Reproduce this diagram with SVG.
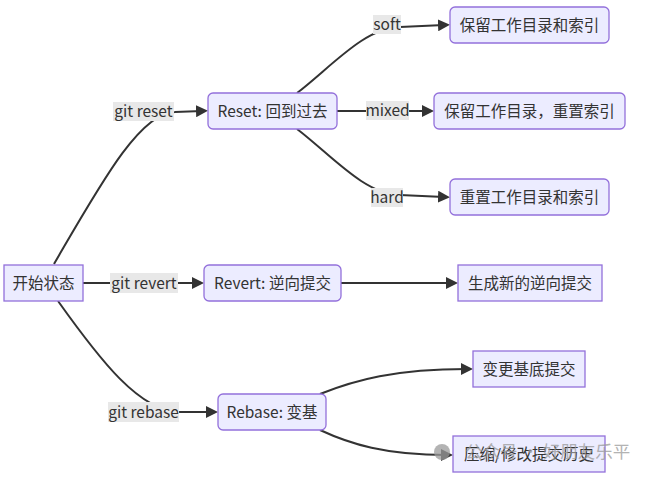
<svg xmlns="http://www.w3.org/2000/svg" width="656" height="479" viewBox="0 0 656 479">
<style>
.node rect{fill:#ECECFF;stroke:#9370DB;stroke-width:1.3px;}
text{font-family:"Noto Sans CJK SC","Microsoft YaHei","Noto Sans",sans-serif;font-size:15.5px;fill:#333;text-anchor:middle;}
.edge{fill:none;stroke:#333;stroke-width:2px;}
.lbl rect{fill:#e8e8e8;stroke:none;}
.wm{fill:#9a9a9a;opacity:0.75;text-anchor:start;font-size:17.5px;}
</style>
<defs>
<marker id="arr" viewBox="0 0 10 10" refX="5" refY="5" markerWidth="12" markerHeight="12" markerUnits="userSpaceOnUse" orient="auto">
<path d="M0,0 L10,5 L0,10 z" fill="#333"/>
</marker>
</defs>
<g id="connectors">
<path class="edge" marker-end="url(#arr)" d="M54,264 C100,185 140,112 175,112 L202,111"/>
<path class="edge" marker-end="url(#arr)" d="M82,283 L198,283"/>
<path class="edge" marker-end="url(#arr)" d="M58,301 C100,360 140,412 180,412 L212,412"/>
<path class="edge" marker-end="url(#arr)" d="M297,93 C330,68 365,27 400,27 L444,25"/>
<path class="edge" marker-end="url(#arr)" d="M337,111 L428,111"/>
<path class="edge" marker-end="url(#arr)" d="M297,129 C330,154 365,195 400,195 L444,197"/>
<path class="edge" marker-end="url(#arr)" d="M341,283 L452,283"/>
<path class="edge" marker-end="url(#arr)" d="M320,394 C355,380 395,369 467,369"/>
<path class="edge" marker-end="url(#arr)" d="M320,430 C350,444 385,455 447,455"/>
</g>
<g id="edge-labels" class="lbl">
<g id="lbl-reset"><rect x="113" y="102" width="61" height="19"/><text x="143.5" y="117">git reset</text></g>
<g id="lbl-revert"><rect x="110" y="273" width="68" height="20"/><text x="144" y="288.5">git revert</text></g>
<g id="lbl-rebase"><rect x="108" y="402" width="71" height="20"/><text x="143.5" y="417.5">git rebase</text></g>
<g id="lbl-soft"><rect x="373" y="15" width="28" height="19"/><text x="387" y="30">soft</text></g>
<g id="lbl-mixed"><rect x="366" y="101" width="43" height="19"/><text x="387.5" y="116">mixed</text></g>
<g id="lbl-hard"><rect x="371" y="188" width="32" height="19"/><text x="387" y="203">hard</text></g>
</g>
<g id="start" class="node"><rect x="4" y="265" width="79" height="36"/><text x="43.5" y="288.5">开始状态</text></g>
<g id="reset" class="node"><rect x="208" y="93" width="129" height="36" rx="5"/><text x="272.5" y="116.5">Reset: 回到过去</text></g>
<g id="revert" class="node"><rect x="204" y="265" width="137" height="36" rx="5"/><text x="272.5" y="288.5">Revert: 逆向提交</text></g>
<g id="rebase" class="node"><rect x="218" y="394" width="108" height="36" rx="5"/><text x="272" y="417.5">Rebase: 变基</text></g>
<g id="soft" class="node"><rect x="450" y="7" width="159" height="36" rx="5"/><text x="529.5" y="30.5">保留工作目录和索引</text></g>
<g id="mixed" class="node"><rect x="434" y="93" width="191" height="36" rx="5"/><text x="529.5" y="116.5">保留工作目录，重置索引</text></g>
<g id="hard" class="node"><rect x="450" y="179" width="159" height="36" rx="5"/><text x="529.5" y="202.5">重置工作目录和索引</text></g>
<g id="newcommit" class="node"><rect x="458" y="265" width="144" height="36"/><text x="530" y="288.5">生成新的逆向提交</text></g>
<g id="changebase" class="node"><rect x="473" y="351" width="112" height="36"/><text x="529" y="374.5">变更基底提交</text></g>
<g id="squash" class="node"><rect x="453" y="436" width="152" height="36"/><text x="529" y="459.5">压缩/修改提交历史</text></g>
<g id="watermark">
<circle cx="442" cy="452" r="8" fill="#9a9a9a" opacity="0.75"/>
<text class="wm" x="465" y="458">公众号 · 好朋友乐平</text>
</g>
</svg>
